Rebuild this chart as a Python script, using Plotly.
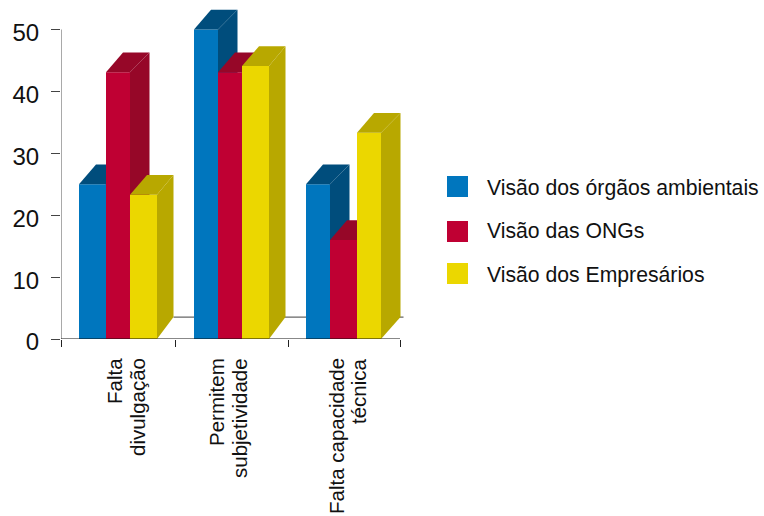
import plotly.graph_objects as go

# Data
categories = [["Falta", "divulgação"], ["Permitem", "subjetividade"], ["Falta capacidade", "técnica"]]
series_names = ["Visão dos órgãos ambientais", "Visão das ONGs", "Visão dos Empresários"]
orgaos = [25, 50, 25]
ongs = [43.1, 43.1, 16]
empresarios = [23.3, 44.1, 33.3]
y_ticks = [0, 10, 20, 30, 40, 50]

# Styles and layout
front_colors = ["#0076BE", "#BF0033", "#EBD700"]
side_colors = ["#004D7C", "#960728", "#B8A800"]
FONT = "Liberation Sans, Arial, Helvetica, sans-serif"
W, H = 764, 516
L, R, T, B = 61, 410, 4, 339
PX_PER_UNIT = 6.19
AXIS_RIGHT = 400
bar_edges = [[79, 106, 130, 157], [194, 218, 242, 269], [306, 330, 357, 381]]
group_ticks = [61, 175, 288, 400]
label_lines_x = [[114, 137], [216, 239], [336, 358]]
DX_LEFT, DX_RIGHT, DY_TOP, DY_FLOOR = 17, 43.5, 3.2, 3.55


def paper_x(px):
    return (px - L) / (R - L)


def paper_y(py):
    return (B - py) / (B - T)


fig = go.Figure()
all_values = [orgaos, ongs, empresarios]

fig.add_trace(go.Scatter(
    x=[bar_edges[0][2] + DX_RIGHT, bar_edges[2][2] + DX_RIGHT + 3], y=[DY_FLOOR, DY_FLOOR],
    mode="lines", line=dict(color="#666666", width=1.2), cliponaxis=False,
    hoverinfo="skip", showlegend=False, zorder=0))

layer = 1
for g in range(3):
    for s, values in enumerate(all_values):
        v = values[g]
        left, right = bar_edges[g][s], bar_edges[g][s + 1]
        fig.add_trace(go.Scatter(
            x=[right, right, left + DX_RIGHT, left + DX_RIGHT, right],
            y=[0, v, v + DY_TOP, DY_FLOOR, 0],
            mode="lines", fill="toself", fillcolor=side_colors[s], line=dict(width=0, color=side_colors[s]),
            hoverinfo="skip", showlegend=False, zorder=layer))
        fig.add_trace(go.Scatter(
            x=[left, right, left + DX_RIGHT, left + DX_LEFT, left],
            y=[v, v, v + DY_TOP, v + DY_TOP, v],
            mode="lines", fill="toself", fillcolor=side_colors[s], line=dict(width=0, color=side_colors[s]),
            hoverinfo="skip", showlegend=False, zorder=layer))
        fig.add_trace(go.Bar(
            x=[(left + right) / 2], y=[v], width=[right - left], name=series_names[s],
            marker=dict(color=front_colors[s], line=dict(width=0)),
            showlegend=False, zorder=layer))
        layer += 1

annotations = []
for lines, xs in zip(categories, label_lines_x):
    for text, x in zip(lines, xs):
        annotations.append(dict(
            x=x, xref="x", y=paper_y(356), yref="paper", text=text, textangle=-90,
            showarrow=False, xanchor="center", yanchor="top",
            font=dict(family=FONT, size=20.5, color="#111111")))

shapes = [
    dict(type="line", xref="x", yref="y", x0=L, x1=L, y0=0, y1=50, line=dict(color="#555555", width=1)),
    dict(type="line", xref="x", yref="y", x0=L, x1=AXIS_RIGHT, y0=0, y1=0, line=dict(color="#111111", width=1)),
]
for name, color, top, text_y in zip(series_names, front_colors, [176, 221, 263], [187.5, 230, 274.5]):
    shapes.append(dict(type="rect", xref="paper", yref="paper",
                       x0=paper_x(447), x1=paper_x(468), y0=paper_y(top), y1=paper_y(top + 21),
                       fillcolor=color, line=dict(width=0)))
    annotations.append(dict(
        x=paper_x(485), xref="paper", y=paper_y(text_y), yref="paper", text=name,
        showarrow=False, xanchor="left", yanchor="middle",
        font=dict(family=FONT, size=21.2, color="#111111")))

fig.update_layout(
    width=W, height=H, autosize=False,
    margin=dict(l=L, r=W - R, t=T, b=H - B, pad=0),
    paper_bgcolor="white", plot_bgcolor="rgba(0,0,0,0)",
    showlegend=False, barmode="overlay",
    font=dict(family=FONT, color="#111111"),
    annotations=annotations, shapes=shapes,
    xaxis=dict(range=[L, R], tickmode="array", tickvals=group_ticks, ticktext=[""] * 4,
               ticks="outside", ticklen=7, tickwidth=1, tickcolor="#222222",
               showline=False, showgrid=False, zeroline=False),
    yaxis=dict(range=[0, (B - T) / PX_PER_UNIT], tickmode="array", tickvals=y_ticks,
               ticktext=[str(t) for t in y_ticks],
               ticks="outside", ticklen=9, tickwidth=1, tickcolor="#444444",
               showline=False, showgrid=False, zeroline=False,
               tickfont=dict(family=FONT, size=24, color="#111111"), ticklabelshift=3, ticklabelstandoff=7),
)

fig.write_html("out.html", config={"displayModeBar": False},
               post_script="document.body.style.margin='0';document.body.style.overflow='hidden';")
